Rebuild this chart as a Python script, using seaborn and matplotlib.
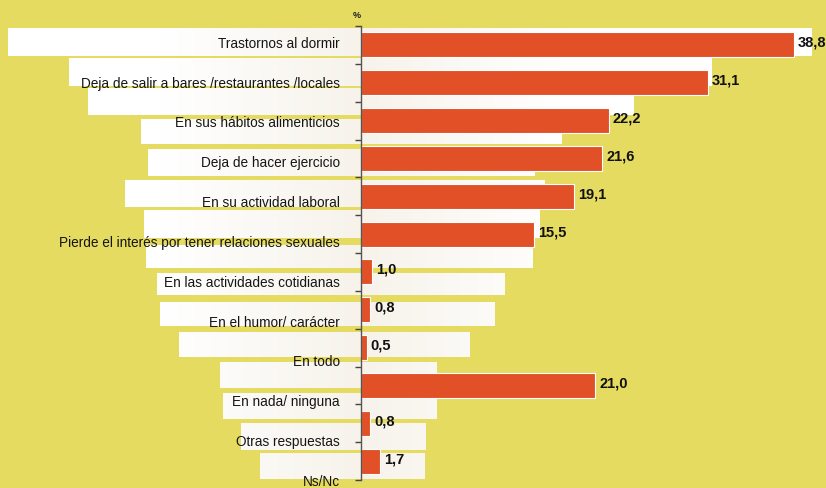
import matplotlib
matplotlib.use("Agg")
import matplotlib.pyplot as plt
import matplotlib.colors as mcolors
import numpy as np
import pandas as pd
import seaborn as sb

sb.set_style("white")
plt.rcParams['font.family'] = ['Liberation Sans', 'DejaVu Sans']

# data
categories = [
    "Trastornos al dormir",
    "Deja de salir a bares /restaurantes /locales",
    "En sus hábitos alimenticios",
    "Deja de hacer ejercicio",
    "En su actividad laboral",
    "Pierde el interés por tener relaciones sexuales",
    "En las actividades cotidianas",
    "En el humor/ carácter",
    "En todo",
    "En nada/ ninguna",
    "Otras respuestas",
    "Ns/Nc",
]
values = [38.8, 31.1, 22.2, 21.6, 19.1, 15.5, 1.0, 0.8, 0.5, 21.0, 0.8, 1.7]

YELLOW = "#E4DB60"
BAR = "#E25028"
CREAM = np.array(mcolors.to_rgb("#F7F3EB"))
WHITE = np.array([1.0, 1.0, 1.0])

W, H = 826, 488
AXIS_X, AXIS_TOP, AXIS_BOTTOM = 361, 26, 480

# white label panels behind the text (left, right, top, bottom in pixels)
panels = [
    (8, 812, 28, 56), (69, 712, 58, 86), (88, 634, 88, 115),
    (141, 562, 119, 144), (148, 535, 149, 176), (125, 545, 180, 207),
    (144, 540, 210, 238), (146, 533, 245, 268), (157, 505, 273, 295),
    (160, 495, 302, 326), (179, 470, 332, 357), (220, 437, 362, 388),
    (223, 437, 393, 419), (241, 426, 423, 450), (260, 425, 453, 479),
]

df = pd.DataFrame({"cat": categories, "val": values})

fig = plt.figure(figsize=(W / 100, H / 100), dpi=100)
fig.patch.set_facecolor(YELLOW)

# background layer in pixel coordinates for the panels
bg = fig.add_axes([0, 0, 1, 1], zorder=0)
bg.axis("off")
for l, r, t, b in panels:
    xs = np.arange(l, r) + 0.5
    w = np.clip(np.abs(xs - AXIS_X) / 200, 0, 1)[:, None]
    grad = CREAM * (1 - w) + WHITE * w
    bg.imshow(grad[None, :, :], extent=(l, r, b, t), aspect="auto",
              interpolation="bilinear")
bg.set_xlim(0, W)
bg.set_ylim(H, 0)

ax = fig.add_axes([AXIS_X / W, 1 - AXIS_BOTTOM / H, 1 - AXIS_X / W,
                   (AXIS_BOTTOM - AXIS_TOP) / H], zorder=1)
ax.set_facecolor("none")
sb.barplot(data=df, x="val", y="cat", orient="h", color=BAR, saturation=1,
           width=0.66, edgecolor="white", linewidth=0.8, ax=ax)

n = len(categories)
ax.set_xlim(0, (W - AXIS_X) / ((794 - AXIS_X) / 38.8))
ax.set_ylim(n - 0.5, -0.5)
ax.set_yticks(np.arange(n + 1) - 0.5)
ax.set_yticklabels([])
ax.set_xticks([])
ax.set_xlabel("")
ax.set_ylabel("")
for s in ["top", "right", "bottom"]:
    ax.spines[s].set_visible(False)
ax.spines["left"].set_color("#555555")
ax.spines["left"].set_linewidth(1.0)
ax.tick_params(axis="y", direction="out", length=4, width=1, color="#444444",
               left=True)

# category labels drift slightly downward compared with the bars
LABEL_STEP, LABEL_SHIFT = 1.053, -0.03
for i, cat in enumerate(categories):
    ax.annotate(cat, xy=(0, LABEL_SHIFT + LABEL_STEP * i), xytext=(-21, 0),
                textcoords="offset pixels", ha="right", va="center",
                fontsize=9.8, color="#151515", annotation_clip=False)

for i, v in enumerate(values):
    ax.annotate(f"{v:.1f}".replace(".", ","), xy=(v, i), xytext=(4, 2),
                textcoords="offset pixels", ha="left", va="center",
                fontsize=10.5, fontweight="bold", color="#111111",
                annotation_clip=False)

ax.annotate("%", xy=(0, -0.5), xytext=(-4, 11), textcoords="offset pixels",
            ha="center", va="center", fontsize=6.5, fontweight="bold",
            color="#222222", annotation_clip=False)

fig.savefig("out.png", dpi=100, facecolor=YELLOW)
